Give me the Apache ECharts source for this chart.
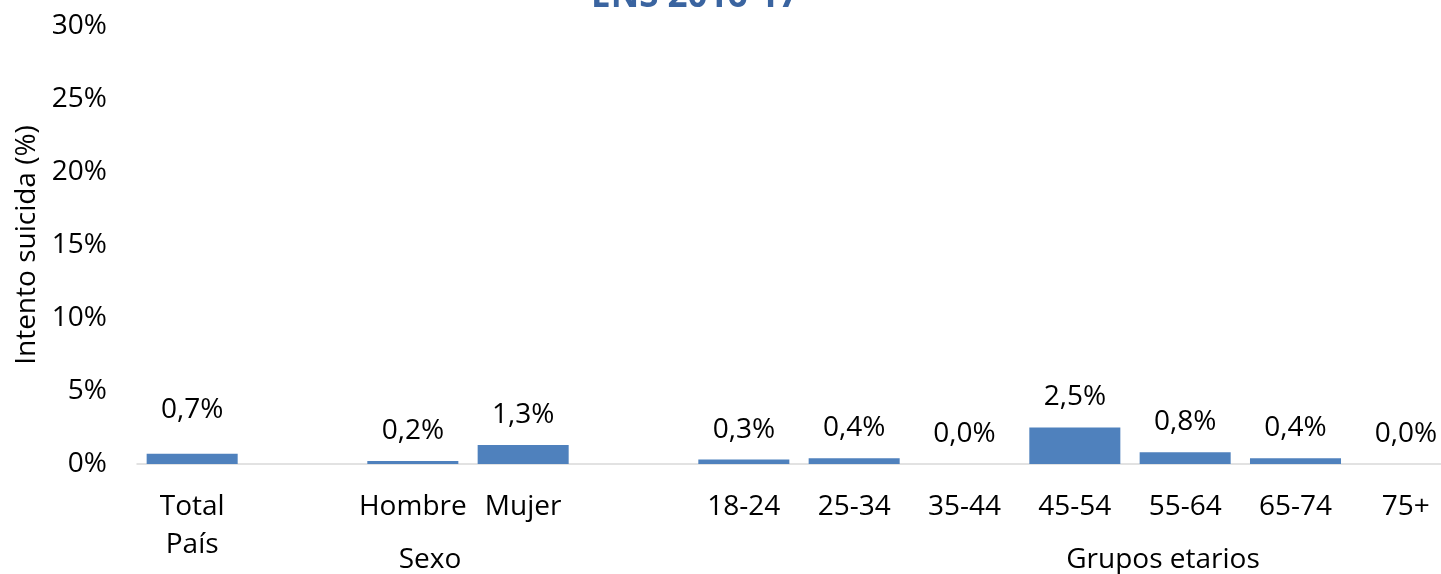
<!DOCTYPE html>
<html>
<head>
<meta charset="utf-8">
<script src="https://cdn.jsdelivr.net/npm/echarts@6/dist/echarts.min.js"></script>
<style>
  html, body { margin: 0; padding: 0; background: #ffffff; overflow: hidden; }
  /* plot area runs slightly past the right edge of the window */
  #chart { width: 1461px; height: 574px; }
</style>
</head>
<body>
<div id="chart"></div>
<script>
// Intento suicida por grupo (ENS 2016-17)
const categories = ['Total\nPaís', '', 'Hombre', 'Mujer', '', '18-24', '25-34', '35-44', '45-54', '55-64', '65-74', '75+'];
const values = [0.7, null, 0.2, 1.3, null, 0.3, 0.4, 0.0, 2.5, 0.8, 0.4, 0.0];
const yTicks = [0, 5, 10, 15, 20, 25, 30];
const groupLabels = ['Sexo', 'Grupos etarios'];

const FONT = '"Open Sans", sans-serif';
const FS = 28;
const chart = echarts.init(document.getElementById('chart'), null, { renderer: 'canvas' });

const seriesData = values.map(function (v, i) {
  if (v === null) return '-';
  const item = { value: v };
  if (i === 0) item.label = { offset: [0, -14] };
  return item;
});

chart.setOption({
  animation: false,
  title: {
    text: 'ENS 2016-17',
    left: 690,
    textAlign: 'center',
    top: -25,
    textStyle: { fontFamily: FONT, fontSize: 35, fontWeight: 'bold', color: '#3a64a0' }
  },
  grid: { left: 137, right: 0, top: 26, bottom: 110, containLabel: false },
  xAxis: {
    type: 'category',
    data: categories,
    axisLine: { show: true, lineStyle: { color: '#d9d9d9', width: 1.5 } },
    axisTick: { show: false },
    axisLabel: {
      interval: 0,
      margin: 24,
      fontFamily: FONT,
      fontSize: FS,
      color: '#000000',
      lineHeight: 38
    }
  },
  yAxis: {
    type: 'value',
    min: yTicks[0],
    max: yTicks[yTicks.length - 1],
    interval: 5,
    name: 'Intento suicida (%)',
    nameLocation: 'middle',
    nameGap: 96,
    nameRotate: 90,
    nameTextStyle: { fontFamily: FONT, fontSize: FS, color: '#000000' },
    axisLine: { show: false },
    axisTick: { show: false },
    splitLine: { show: false },
    axisLabel: {
      margin: 30,
      fontFamily: FONT,
      fontSize: FS,
      color: '#000000',
      formatter: function (v) { return v + '%'; }
    }
  },
  series: [{
    type: 'bar',
    data: seriesData,
    barWidth: '82.5%',
    itemStyle: { color: '#4f81bd' },
    label: {
      show: true,
      position: 'top',
      distance: 16,
      fontFamily: FONT,
      fontSize: FS,
      color: '#000000',
      formatter: function (p) { return p.value.toFixed(1).replace('.', ',') + '%'; }
    }
  }],
  graphic: [
    { type: 'text', x: 430, y: 560, style: { text: groupLabels[0], fontFamily: FONT, fontSize: FS, fill: '#000', align: 'center', verticalAlign: 'middle' } },
    { type: 'text', x: 1163, y: 560, style: { text: groupLabels[1], fontFamily: FONT, fontSize: FS, fill: '#000', align: 'center', verticalAlign: 'middle' } }
  ]
});
</script>
</body>
</html>
